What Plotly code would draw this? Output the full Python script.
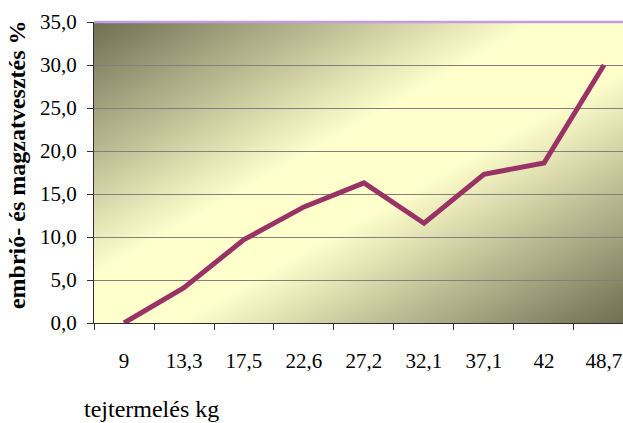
import base64
import plotly.graph_objects as go

categories = ["9", "13,3", "17,5", "22,6", "27,2", "32,1", "37,1", "42", "48,7"]
loss_pct = [0.0, 4.1, 9.7, 13.5, 16.3, 11.6, 17.3, 18.6, 30.0]

y_title = "embrió- és magzatvesztés %"
x_title = "tejtermelés kg"

svg = (
    '<svg xmlns="http://www.w3.org/2000/svg" width="100" height="100" '
    'preserveAspectRatio="none" viewBox="0 0 100 100">'
    '<defs><linearGradient id="g" x1="0" y1="0" x2="1" y2="1">'
    '<stop offset="0" stop-color="#6f6f52"/>'
    '<stop offset="0.42" stop-color="#ffffcc"/>'
    '<stop offset="0.58" stop-color="#ffffcc"/>'
    '<stop offset="1" stop-color="#6f6f52"/>'
    '</linearGradient></defs>'
    '<rect x="0" y="0" width="100" height="100" fill="url(#g)"/></svg>'
)
bg_uri = "data:image/svg+xml;base64," + base64.b64encode(svg.encode()).decode()

serif = "Liberation Serif"

fig = go.Figure()
fig.add_trace(go.Scatter(
    x=categories, y=loss_pct, mode="lines",
    line=dict(color="#993366", width=5),
    hoverinfo="skip", showlegend=False,
))

fig.update_layout(
    template="none",
    width=623, height=423,
    margin=dict(l=94, r=0, t=22, b=100),
    paper_bgcolor="white",
    plot_bgcolor="rgba(0,0,0,0)",
    separators=", ",
    showlegend=False,
    font=dict(family=serif, color="black"),
    images=[dict(source=bg_uri, xref="paper", yref="paper", x=0, y=1,
                 sizex=1, sizey=1, sizing="stretch", layer="below",
                 xanchor="left", yanchor="top")],
    shapes=[dict(type="line", xref="paper", yref="paper", x0=0, x1=1, y0=1, y1=1,
                 line=dict(color="#c49ce4", width=2.5))],
    annotations=[
        dict(text=y_title, xref="paper", yref="paper", x=-0.1456, y=0.528,
             textangle=-90, showarrow=False, xanchor="center", yanchor="middle",
             font=dict(family=serif, size=24, color="black", weight="bold")),
        dict(text=x_title, xref="paper", yref="paper", x=-0.0227, y=-0.285,
             showarrow=False, xanchor="left", yanchor="middle",
             font=dict(family=serif, size=24, color="black")),
    ],
)

fig.update_xaxes(
    type="category", categoryorder="array", categoryarray=categories,
    range=[-0.5, 8.317], tickson="boundaries", ticks="outside", ticklen=6,
    tickcolor="#333333", showline=True, linecolor="#2b2b3b", linewidth=1,
    showgrid=False, zeroline=False, automargin=False,
    tickfont=dict(family=serif, size=21, color="black"),
    ticklabelstandoff=19,
)
fig.update_yaxes(
    range=[0, 35], dtick=5, tick0=0, tickformat=".1f",
    ticks="outside", ticklen=6, tickcolor="#333333",
    showline=True, linecolor="#2b2b3b", linewidth=1, automargin=False,
    showgrid=True, gridcolor="#808080", gridwidth=1, zeroline=False,
    tickfont=dict(family=serif, size=21, color="black"),
    ticklabelstandoff=6,
)

fig.write_html(
    "out.html",
    config={"displayModeBar": False},
    post_script="document.body.style.margin='0';document.body.style.padding='0';",
)
